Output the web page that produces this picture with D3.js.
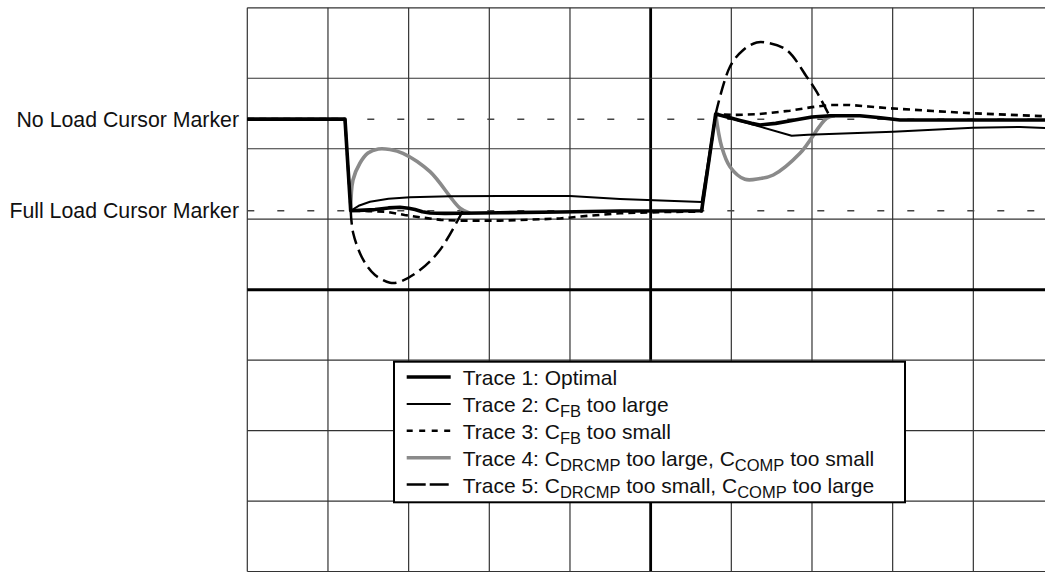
<!DOCTYPE html>
<html>
<head>
<meta charset="utf-8">
<script src="https://cdn.jsdelivr.net/npm/d3@7"></script>
<style>
body { margin: 0; background: #fff; }
text { font-family: "Liberation Sans", Arial, sans-serif; fill: #111; }
</style>
</head>
<body>
<div id="chart"></div>
<script>
var W = 1045, H = 572;

// x = time in screen divisions (0..10), y = voltage in divisions (0 = screen centre)
var gridX = d3.range(0, 11);
var gridY = d3.range(-4, 5);

var cursorNames = ["No Load Cursor Marker", "Full Load Cursor Marker"];
var cursorLevels = [2.42, 1.12];

var trace1 = [[0,2.42],[1.211,2.42],[1.282,1.12],[1.45,1.128],[1.583,1.137],[1.75,1.16],[1.893,1.169],
  [2.0,1.155],[2.079,1.137],[2.17,1.105],[2.265,1.088],[2.45,1.082],[2.637,1.084],[3.132,1.092],
  [3.876,1.102],[4.62,1.116],[5.632,1.12],[5.806,2.493],[5.95,2.45],[6.107,2.401],[6.25,2.36],
  [6.355,2.337],[6.55,2.36],[6.788,2.408],[7.0,2.45],[7.222,2.469],[7.594,2.469],[7.85,2.44],
  [8.09,2.408],[10,2.408]];

var trace2 = [[0,2.42],[1.211,2.42],[1.282,1.12],[1.38,1.19],[1.521,1.248],[1.75,1.29],[2.017,1.311],
  [2.513,1.327],[3.132,1.329],[4.0,1.329],[4.62,1.287],[5.632,1.244],[5.806,2.493],[6.748,2.185],
  [6.95,2.2],[8.003,2.242],[8.995,2.298],[9.577,2.308],[10,2.287]];

var trace3 = [[0,2.42],[1.211,2.42],[1.282,1.12],[1.5,1.115],[1.728,1.106],[1.95,1.06],[2.141,1.027],
  [2.4,0.99],[2.637,0.979],[3.132,0.979],[3.5,0.993],[3.876,1.01],[4.25,1.05],[4.62,1.084],[5.1,1.1],
  [5.632,1.109],[5.806,2.493],[6.02,2.479],[6.314,2.489],[6.5,2.51],[6.726,2.54],[7.0,2.59],
  [7.222,2.621],[7.47,2.621],[7.7,2.6],[7.966,2.574],[8.5,2.535],[8.995,2.503],[10,2.455]];

// trace 4 and 5 only shown where they leave trace 1 (null = gap)
var trace4 = [[1.282,1.12],[1.31,1.556],[1.397,1.797],[1.496,1.939],[1.624,1.996],[1.769,1.989],[1.93,1.935],
  [2.265,1.674],[2.637,1.155],[2.76,1.084],null,
  [5.806,2.493],[5.88,2.029],[5.983,1.745],[6.169,1.566],[6.355,1.577],[6.52,1.627],[6.851,1.935],
  [7.181,2.432],[7.284,2.469]];

var trace5 = [[1.282,1.12],[1.313,0.8],[1.438,0.421],[1.583,0.208],[1.769,0.099],[1.893,0.113],[2.141,0.279],
  [2.388,0.563],[2.677,1.13],null,
  [5.806,2.493],[5.983,3.164],[6.148,3.401],[6.314,3.508],[6.438,3.505],[6.686,3.401],[6.934,3.022],
  [7.057,2.809],[7.222,2.455]];

var legendLabels = [
  [["Trace 1: Optimal"]],
  [["Trace 2: C"], ["FB", 1], [" too large"]],
  [["Trace 3: C"], ["FB", 1], [" too small"]],
  [["Trace 4: C"], ["DRCMP", 1], [" too large, C"], ["COMP", 1], [" too small"]],
  [["Trace 5: C"], ["DRCMP", 1], [" too small, C"], ["COMP", 1], [" too large"]]
];

var traces = [trace1, trace2, trace3, trace4, trace5];
var styles = [
  {color: "#000", width: 3.6, dash: null, smooth: false},
  {color: "#000", width: 2, dash: null, smooth: false},
  {color: "#000", width: 2.6, dash: "7,5", smooth: false},
  {color: "#8a8a8a", width: 3.6, dash: null, smooth: true},
  {color: "#000", width: 2.5, dash: "14,6", smooth: true}
];

var x = d3.scaleLinear().domain([0, 10]).range([247.3, 1054]);
var y = d3.scaleLinear().domain([-4, 4]).range([571.5, 7.8]);

var svg = d3.select("#chart").append("svg")
  .attr("width", W).attr("height", H)
  .style("display", "block");

// grid
svg.append("g").selectAll("line").data(gridX).join("line")
  .attr("x1", d => x(d)).attr("x2", d => x(d))
  .attr("y1", y(4)).attr("y2", y(-4))
  .attr("stroke", d => d === 5 ? "#000" : "#333")
  .attr("stroke-width", d => d === 5 ? 2.8 : 1.2);

svg.append("g").selectAll("line").data(gridY).join("line")
  .attr("x1", x(0)).attr("x2", x(10))
  .attr("y1", d => y(d)).attr("y2", d => y(d))
  .attr("stroke", d => d === 0 ? "#000" : "#333")
  .attr("stroke-width", d => d === 0 ? 3 : 1.2);

// cursor markers
svg.append("g").selectAll("line").data(cursorLevels).join("line")
  .attr("x1", x(0)).attr("x2", x(10))
  .attr("y1", d => y(d)).attr("y2", d => y(d))
  .attr("stroke", "#444")
  .attr("stroke-width", 1.5)
  .attr("stroke-dasharray", "7,23");

svg.append("g").selectAll("text").data(cursorNames).join("text")
  .attr("x", 239)
  .attr("y", (d, i) => y(cursorLevels[i]) + 7.5)
  .attr("text-anchor", "end")
  .style("font-size", "21.3px")
  .text(d => d);

// traces, drawn bottom to top
var sharp = d3.line()
  .defined(d => d !== null)
  .x(d => x(d[0])).y(d => y(d[1]));
var smooth = d3.line()
  .defined(d => d !== null)
  .x(d => x(d[0])).y(d => y(d[1]))
  .curve(d3.curveCatmullRom.alpha(0.5));

var order = [3, 4, 2, 1, 0];
svg.append("g").selectAll("path").data(order).join("path")
  .attr("d", i => (styles[i].smooth ? smooth : sharp)(traces[i]))
  .attr("fill", "none")
  .attr("stroke", i => styles[i].color)
  .attr("stroke-width", i => styles[i].width)
  .attr("stroke-dasharray", i => styles[i].dash)
  .attr("stroke-linejoin", "round");

// legend
var lg = svg.append("g");
lg.append("rect")
  .attr("x", 394).attr("y", 361.7)
  .attr("width", 511).attr("height", 140.6)
  .attr("fill", "#fff").attr("stroke", "#000").attr("stroke-width", 2);

var rows = lg.selectAll("g.row").data(legendLabels).join("g")
  .attr("class", "row")
  .attr("transform", (d, i) => "translate(0," + (377 + i * 26.9) + ")");

rows.append("line")
  .attr("x1", 406.7).attr("x2", 450.7)
  .attr("stroke", (d, i) => styles[i].color)
  .attr("stroke-width", (d, i) => styles[i].width)
  .attr("stroke-dasharray", (d, i) => i === 2 ? "6,6.5" : i === 4 ? "19,4" : null);

var txt = rows.append("text")
  .attr("x", 462.7).attr("y", 8)
  .style("font-size", "21px");

txt.selectAll("tspan").data(d => d).join("tspan")
  .style("font-size", p => p[1] ? "16.5px" : "21px")
  .attr("dy", (p, j, nodes) => {
    var prev = j > 0 ? d3.select(nodes[j - 1]).datum() : null;
    if (p[1]) return 5;
    if (prev && prev[1]) return -5;
    return 0;
  })
  .text(p => p[0]);
</script>
</body>
</html>
